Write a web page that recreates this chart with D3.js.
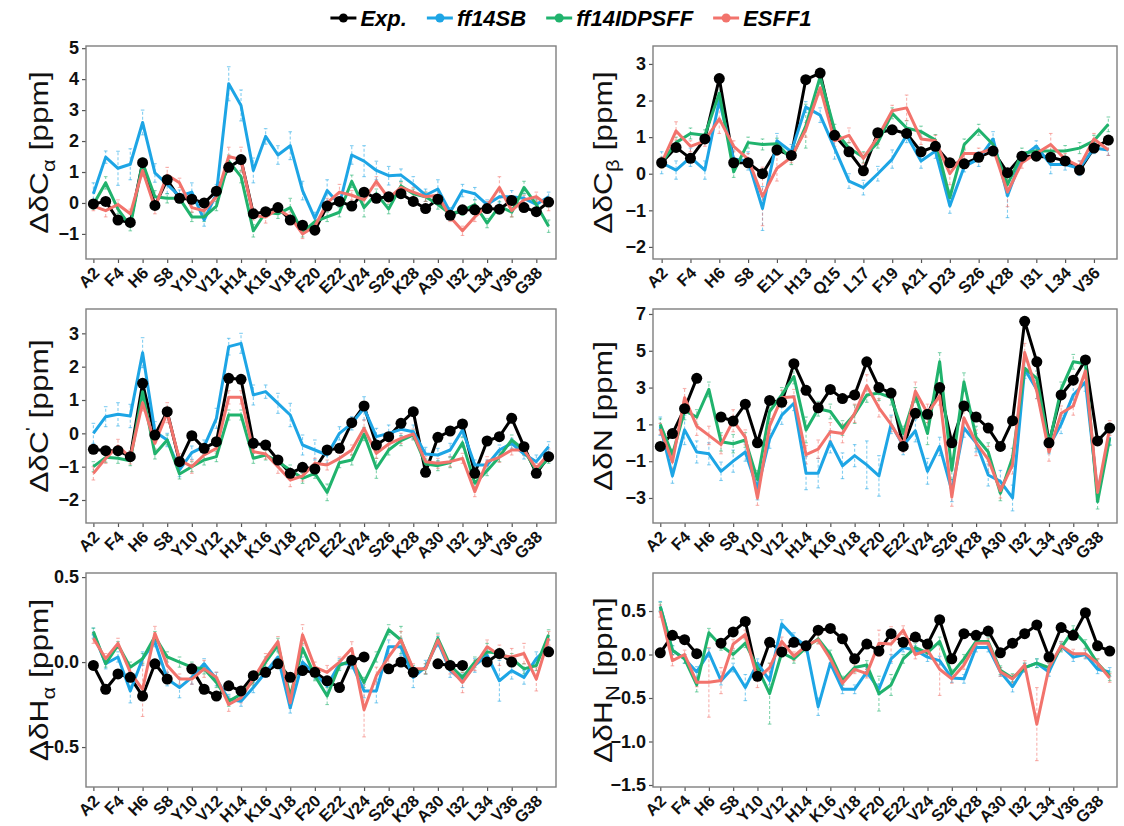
<!DOCTYPE html>
<html>
<head>
<meta charset="utf-8">
<script src="https://cdn.jsdelivr.net/npm/d3@7"></script>
<style>
  body { margin: 0; background: #ffffff; }
  svg { display: block; font-family: "Liberation Sans", Arial, sans-serif; }
</style>
</head>
<body>
<svg id="chart" width="1124" height="826"></svg>
<script>
// Residue levels (glycines are absent from the C-beta panel)
const residues = ["A2","E3","F4","R5","H6","D7","S8","G9","Y10","E11","V12","H13","H14","Q15","K16","L17","V18","F19","F20","A21","E22","D23","V24","G25","S26","N27","K28","G29","A30","I31","I32","G33","L34","M35","V36","G37","G38","V39"];
const residuesCb = ["A2","E3","F4","R5","H6","D7","S8","Y10","E11","V12","H13","H14","Q15","K16","L17","V18","F19","F20","A21","E22","D23","V24","S26","N27","K28","A30","I31","I32","L34","M35","V36","V39"];
const tickResidues = ["A2","F4","H6","S8","Y10","V12","H14","K16","V18","F20","E22","V24","S26","K28","A30","I32","L34","V36","G38"];
const tickResiduesCb = ["A2","F4","H6","S8","E11","H13","Q15","L17","F19","A21","D23","S26","K28","I31","L34","V36"];

const seriesNames = ["Exp.", "ff14SB", "ff14IDPSFF", "ESFF1"];

// C-alpha secondary shifts
const caExp  = [-0.03,0.05,-0.55,-0.63,1.3,-0.08,0.75,0.15,0.12,0.0,0.38,1.15,1.4,-0.35,-0.28,-0.15,-0.55,-0.72,-0.88,-0.1,0.05,-0.1,0.35,0.15,0.2,0.3,0.05,-0.18,0.12,-0.4,-0.22,-0.22,-0.18,-0.2,0.08,-0.15,-0.28,0.03];
const caSB   = [0.3,1.48,1.12,1.25,2.6,0.97,0.6,0.22,0.35,-0.55,0.3,3.85,3.15,1.05,2.15,1.55,1.85,0.4,-0.5,0.4,-0.05,1.55,1.35,1.05,0.88,0.9,0.6,0.25,0.45,-0.3,0.4,0.3,-0.05,0.2,0.2,0.15,-0.05,0.2];
const caIDP  = [-0.05,0.65,-0.2,-0.75,1.3,0.2,0.15,0.15,-0.45,-0.45,-0.1,1.35,0.85,-0.9,-0.3,-0.35,-0.15,-0.95,-0.6,-0.45,-0.3,0.7,-0.15,0.3,-0.2,0.55,0.3,0.2,-0.05,-0.35,-0.25,-0.05,-0.65,-0.1,-0.3,0.5,-0.05,-0.75];
const caESFF = [-0.1,-0.25,-0.05,-0.35,1.05,-0.15,0.9,0.65,-0.15,-0.25,0.2,1.5,1.4,-0.4,-0.45,-0.2,-0.45,-1.0,-0.75,0.0,0.35,0.25,0.1,0.7,0.15,0.5,0.35,0.2,0.25,-0.45,-0.9,-0.45,-0.1,0.5,-0.25,0.1,0.2,-0.1];
const caSBErr   = [0.35,0.2,0.55,0.5,0.4,0.3,0.3,0.2,0.3,0.2,0.3,0.55,0.5,0.4,0.25,0.3,0.45,0.3,0.2,0.35,0.25,0.3,0.5,0.3,0.3,0.2,0.25,0.2,0.3,0.15,0.2,0.2,0.15,0.2,0.2,0.15,0.2,0.15];
const caIDPErr  = [0.15,0.2,0.15,0.15,0.15,0.2,0.15,0.15,0.15,0.15,0.15,0.2,0.2,0.2,0.15,0.15,0.3,0.15,0.15,0.15,0.15,0.2,0.3,0.15,0.15,0.15,0.15,0.15,0.15,0.15,0.15,0.15,0.15,0.15,0.15,0.2,0.15,0.2];
const caESFFErr = [0.15,0.2,0.15,0.15,0.2,0.2,0.25,0.15,0.15,0.15,0.15,0.3,0.4,0.15,0.2,0.15,0.15,0.15,0.15,0.15,0.25,0.15,0.15,0.15,0.15,0.15,0.15,0.15,0.15,0.15,0.15,0.15,0.15,0.35,0.2,0.15,0.15,0.15];

// C-beta secondary shifts
const cbExp  = [0.3,0.72,0.42,0.95,2.6,0.3,0.3,0.0,0.65,0.5,2.57,2.75,1.05,0.6,0.08,1.12,1.2,1.1,0.6,0.75,0.3,0.27,0.45,0.62,0.03,0.48,0.48,0.45,0.35,0.1,0.7,0.92];
const cbSB   = [0.3,0.1,0.45,0.1,2.0,0.4,0.35,-0.95,0.9,0.6,1.82,1.6,0.7,-0.2,-0.38,0.0,0.4,1.05,0.35,0.62,-0.88,0.2,0.4,0.95,-0.6,0.45,0.75,0.25,0.25,0.15,0.7,0.65];
const cbIDP  = [0.3,0.85,1.1,1.05,2.2,0.05,0.85,0.8,0.82,0.4,1.3,2.65,1.2,0.7,0.45,0.85,1.65,1.25,1.15,0.92,-0.65,0.8,1.2,0.8,-0.3,0.55,0.62,0.62,0.62,0.7,0.9,1.35];
const cbESFF = [0.3,1.17,0.75,0.9,1.5,0.75,0.4,-0.62,0.15,0.45,1.2,2.35,0.9,1.05,0.42,1.0,1.72,1.8,0.95,0.9,0.0,0.55,0.55,0.7,-0.5,0.3,0.55,0.8,0.4,0.2,0.95,0.65];
const cbSBErr   = [0.3,0.25,0.25,0.25,0.2,0.25,0.25,0.6,0.2,0.2,0.15,0.2,0.3,0.2,0.2,0.2,0.25,0.2,0.2,0.2,0.2,0.15,0.2,0.2,0.6,0.15,0.15,0.25,0.15,0.2,0.15,0.15];
const cbIDPErr  = [0.15,0.15,0.15,0.15,0.25,0.15,0.15,0.15,0.15,0.15,0.6,0.2,0.15,0.15,0.15,0.15,0.15,0.2,0.15,0.15,0.2,0.15,0.15,0.15,0.3,0.15,0.15,0.15,0.15,0.15,0.15,0.2];
const cbESFFErr = [0.15,0.25,0.15,0.15,0.4,0.15,0.15,0.8,0.35,0.15,0.2,0.2,0.15,0.2,0.15,0.2,0.15,0.35,0.15,0.15,0.3,0.15,0.15,0.15,0.4,0.15,0.15,0.3,0.15,0.15,0.15,0.15];

// Carbonyl C' secondary shifts
const coExp  = [-0.48,-0.52,-0.52,-0.7,1.5,-0.05,0.65,-0.85,-0.07,-0.45,-0.25,1.65,1.62,-0.3,-0.35,-0.8,-1.2,-1.02,-1.07,-0.5,-0.45,0.32,0.82,-0.35,-0.1,0.3,0.65,-1.17,-0.12,0.07,0.28,-1.2,-0.23,-0.1,0.45,-0.4,-1.2,-0.7];
const coSB   = [0.0,0.5,0.57,0.52,2.42,0.05,-0.2,-1.1,-0.58,-0.4,0.45,2.6,2.7,1.15,1.25,0.9,0.55,-0.35,-0.5,-0.65,0.0,0.3,0.75,-0.1,0.0,0.12,0.05,-0.62,-0.65,-0.5,0.1,-0.95,-0.95,-0.5,-0.3,-0.62,-0.85,-0.4];
const coIDP  = [-1.0,-0.72,-0.75,-0.82,1.25,-0.62,-0.2,-1.22,-1.0,-0.8,-0.7,0.55,0.55,-0.75,-0.65,-0.85,-1.1,-1.35,-1.2,-1.77,-0.88,-0.8,-0.02,-1.05,-0.5,-0.22,-0.05,-0.92,-0.97,-0.88,-0.28,-1.5,-1.12,-0.7,-0.2,-0.5,-1.12,-0.75];
const coESFF = [-1.2,-0.75,-0.38,-0.72,0.92,-0.3,0.62,-0.8,-1.0,-0.65,-0.45,1.08,1.08,-0.55,-0.62,-1.0,-1.4,-1.28,-0.9,-0.95,-0.75,-0.5,0.15,-0.6,-0.32,-0.15,-0.02,-0.85,-0.9,-0.85,-0.75,-1.75,-0.85,-0.72,-0.5,-0.5,-1.05,-0.62];
const coSBErr   = [0.3,0.3,0.35,0.35,0.45,0.3,0.2,0.2,0.2,0.2,0.3,0.25,0.3,0.3,0.2,0.3,0.35,0.3,0.3,0.25,0.2,0.2,0.35,0.25,0.25,0.2,0.2,0.2,0.2,0.2,0.2,0.15,0.15,0.15,0.15,0.15,0.2,0.15];
const coIDPErr  = [0.15,0.15,0.15,0.15,0.2,0.15,0.15,0.15,0.15,0.15,0.15,0.15,0.15,0.15,0.15,0.15,0.15,0.15,0.15,0.25,0.15,0.15,0.2,0.3,0.15,0.15,0.15,0.15,0.15,0.15,0.15,0.15,0.15,0.15,0.15,0.15,0.15,0.15];
const coESFFErr = [0.2,0.15,0.2,0.2,0.25,0.2,0.3,0.2,0.2,0.15,0.15,0.2,0.2,0.15,0.15,0.2,0.2,0.15,0.15,0.15,0.15,0.15,0.25,0.15,0.15,0.15,0.15,0.15,0.15,0.15,0.15,0.15,0.15,0.15,0.15,0.15,0.15,0.15];

// Backbone N secondary shifts (H6 not observed experimentally)
const nExp  = [-0.2,0.5,1.85,3.5,null,1.4,1.18,2.1,0.0,2.3,2.2,4.3,2.85,1.9,2.9,2.4,2.6,4.4,3.0,2.7,-0.2,1.6,1.55,3.0,0.0,2.0,1.4,0.8,-0.2,1.2,6.6,4.4,0.0,2.6,3.4,4.5,0.1,0.8];
const nSB   = [0.9,-1.8,0.7,-0.5,-0.6,-1.55,-1.0,-0.5,-2.5,0.2,1.5,2.15,-1.65,-1.65,0.05,-1.25,-0.7,-1.2,-1.8,1.0,-0.15,0.65,-1.55,-0.2,-2.6,0.8,0.0,-1.75,-2.1,-3.0,4.0,2.9,-0.2,1.0,2.6,3.3,-2.7,0.3];
const nIDP  = [1.0,-0.65,1.75,1.4,2.9,0.05,-0.05,0.15,-2.0,1.7,2.6,3.6,0.7,1.85,1.7,0.8,1.55,2.6,2.7,2.45,0.5,2.6,0.5,4.4,-1.5,3.3,0.3,-0.5,-2.75,-0.8,4.05,3.5,-0.1,2.9,4.4,4.3,-3.2,0.25];
const nESFF = [0.75,-1.05,2.45,0.9,0.4,-0.1,1.2,0.3,-3.0,0.9,2.45,2.5,-0.65,-0.35,0.6,0.5,1.6,3.1,1.9,1.0,-0.1,2.8,1.6,2.55,-2.95,1.35,0.0,-0.9,-2.6,-1.2,4.9,2.8,-0.5,1.6,2.0,3.9,-2.7,0.8];
const nSBErr   = [0.5,0.4,0.8,0.6,0.6,0.5,0.6,0.5,0.6,0.5,0.5,0.4,0.9,0.8,0.6,0.7,0.6,1.3,1.1,0.5,0.5,0.6,0.7,0.5,0.6,0.5,0.5,0.6,0.6,0.7,0.5,0.5,0.4,0.5,0.6,0.5,0.5,0.4];
const nIDPErr  = [0.3,0.3,0.5,0.4,0.4,0.5,0.5,0.4,0.5,0.4,0.4,0.4,0.7,0.4,0.4,0.4,0.5,0.4,0.4,0.4,0.4,0.4,0.6,0.5,0.5,0.5,0.6,0.5,0.4,0.5,0.4,0.4,0.4,0.4,0.4,0.4,0.4,0.4];
const nESFFErr = [0.3,0.4,0.5,0.5,0.5,0.5,0.6,0.4,0.4,0.4,0.4,0.4,0.5,0.5,0.5,0.5,0.5,0.6,0.5,0.4,0.4,0.5,0.5,0.5,0.5,0.6,0.7,0.7,0.4,0.5,0.5,0.4,0.5,0.4,0.5,0.4,0.4,0.4];

// H-alpha secondary shifts (glycine H-alpha not reported experimentally)
const haExp  = [-0.02,-0.16,-0.07,-0.09,-0.2,-0.01,-0.1,null,-0.04,-0.16,-0.2,-0.14,-0.17,-0.08,-0.06,-0.01,-0.09,-0.05,-0.06,-0.11,-0.15,0.01,0.03,null,-0.04,0.0,-0.06,null,-0.01,-0.02,-0.02,null,0.0,0.05,0.0,null,null,0.06];
const haSB   = [0.17,-0.01,0.03,-0.17,0.02,0.12,-0.1,-0.15,-0.09,-0.01,-0.1,-0.22,-0.23,-0.15,-0.06,0.03,-0.27,0.0,-0.07,-0.14,-0.01,-0.01,-0.17,-0.17,0.09,0.09,-0.09,-0.03,0.12,-0.05,-0.11,-0.02,0.04,-0.11,-0.05,-0.09,0.02,0.09];
const haIDP  = [0.18,-0.01,0.1,-0.03,0.02,0.15,0.03,0.0,-0.03,-0.04,-0.12,-0.23,-0.19,-0.11,0.0,0.1,-0.2,0.08,-0.08,-0.2,-0.02,0.01,-0.12,0.03,0.19,0.13,-0.05,-0.04,0.14,-0.02,-0.09,0.0,0.06,0.05,0.02,-0.04,-0.02,0.16];
const haESFF = [0.14,0.02,0.11,-0.06,-0.16,0.17,-0.02,-0.1,-0.1,-0.04,-0.09,-0.25,-0.21,-0.1,0.02,0.12,-0.24,0.16,-0.03,-0.06,0.0,0.08,-0.28,-0.08,0.03,0.13,-0.04,-0.04,0.13,-0.04,-0.12,-0.02,0.09,0.04,0.03,0.05,-0.1,0.14];
const haSBErr   = [0.03,0.03,0.03,0.07,0.04,0.03,0.04,0.06,0.04,0.03,0.04,0.03,0.03,0.03,0.03,0.04,0.03,0.03,0.03,0.04,0.03,0.03,0.04,0.07,0.04,0.05,0.06,0.04,0.03,0.04,0.04,0.04,0.04,0.12,0.05,0.04,0.04,0.04];
const haIDPErr  = [0.02,0.02,0.02,0.03,0.03,0.03,0.03,0.03,0.03,0.03,0.03,0.03,0.03,0.03,0.03,0.04,0.03,0.03,0.03,0.05,0.03,0.03,0.03,0.03,0.03,0.08,0.03,0.03,0.03,0.03,0.03,0.03,0.05,0.03,0.03,0.03,0.03,0.03];
const haESFFErr = [0.03,0.03,0.03,0.03,0.16,0.04,0.04,0.03,0.03,0.05,0.03,0.04,0.03,0.03,0.03,0.03,0.03,0.06,0.03,0.04,0.03,0.04,0.16,0.05,0.06,0.05,0.03,0.03,0.03,0.03,0.06,0.03,0.04,0.06,0.05,0.06,0.07,0.04];

// Amide H-N secondary shifts (H6 not observed experimentally)
const hnExp  = [0.02,0.22,0.17,0.01,null,0.13,0.26,0.38,-0.25,0.14,0.03,0.14,0.1,0.28,0.3,0.18,-0.05,0.12,0.04,0.24,0.14,0.2,0.12,0.4,-0.05,0.24,0.22,0.27,0.02,0.13,0.24,0.34,-0.03,0.31,0.22,0.48,0.1,0.04];
const hnSB   = [0.55,0.05,-0.05,-0.2,0.02,-0.3,-0.15,-0.38,-0.1,-0.3,0.35,0.2,0.1,-0.6,-0.1,-0.4,-0.4,-0.2,-0.4,-0.05,0.08,0.05,-0.03,-0.07,-0.27,-0.28,0.08,0.08,-0.2,-0.37,-0.15,-0.1,-0.2,0.1,-0.03,0.0,-0.17,-0.2];
const hnIDP  = [0.55,0.05,-0.05,-0.35,0.25,0.1,0.0,0.13,-0.15,-0.45,0.02,-0.05,0.08,0.18,0.0,-0.3,-0.15,-0.12,-0.45,-0.35,-0.05,0.08,0.02,0.15,-0.22,-0.05,0.15,0.15,-0.18,-0.27,-0.15,-0.1,-0.15,0.08,0.28,0.12,-0.1,-0.25];
const hnESFF = [0.5,-0.07,0.0,-0.32,-0.32,-0.3,0.12,0.23,-0.28,-0.15,0.15,-0.02,0.1,0.17,-0.05,-0.33,-0.17,-0.22,0.13,0.12,0.28,0.0,0.05,-0.17,-0.28,-0.12,0.13,0.13,-0.2,-0.28,-0.12,-0.8,-0.15,0.1,0.01,0.01,-0.1,-0.27];
const hnSBErr   = [0.06,0.05,0.05,0.06,0.05,0.05,0.05,0.15,0.05,0.05,0.05,0.05,0.05,0.1,0.05,0.05,0.05,0.05,0.06,0.05,0.05,0.05,0.05,0.05,0.05,0.05,0.05,0.05,0.05,0.06,0.05,0.05,0.05,0.05,0.05,0.05,0.05,0.05];
const hnIDPErr  = [0.05,0.05,0.05,0.08,0.05,0.05,0.05,0.05,0.05,0.35,0.05,0.05,0.05,0.05,0.05,0.05,0.05,0.05,0.2,0.12,0.05,0.05,0.05,0.05,0.05,0.05,0.05,0.05,0.05,0.05,0.05,0.05,0.05,0.05,0.05,0.05,0.05,0.05];
const hnESFFErr = [0.07,0.06,0.05,0.05,0.4,0.15,0.05,0.05,0.1,0.05,0.05,0.05,0.05,0.05,0.05,0.05,0.05,0.05,0.15,0.2,0.05,0.05,0.05,0.3,0.05,0.05,0.05,0.05,0.05,0.05,0.05,0.42,0.05,0.05,0.05,0.05,0.05,0.05];

// Y-axis ticks
const caTicks = [-1,0,1,2,3,4,5];
const cbTicks = [-2,-1,0,1,2,3];
const coTicks = [-2,-1,0,1,2,3];
const nTicks  = [-3,-1,1,3,5,7];
const haTicks = [-0.5,0.0,0.5];
const hnTicks = [-1.5,-1.0,-0.5,0.0,0.5];

// ---------------------------------------------------------------------------
const colors = ["#000000", "#1DA5E5", "#20B36D", "#F2736C"];
const colLeft = [86, 556], colRight = [653, 1117];
const rows = [[46, 259], [309, 523], [573, 787]];
const fmtInt = d3.format("d"), fmt1 = d3.format(".1f");
const FONT = "Liberation Sans, Arial, sans-serif";

const panels = [
  { levels: residues,   ticks: tickResidues,   col: colLeft,  row: rows[0], domain: [-1.81, 5.07], yTicks: caTicks, fmt: fmtInt,
    title: [["ΔδC", 0], ["α", 1], [" [ppm]", 0]], titleX: 48,
    exp: caExp, sims: [[caSB, caSBErr], [caIDP, caIDPErr], [caESFF, caESFFErr]] },
  { levels: residuesCb, ticks: tickResiduesCb, col: colRight, row: rows[0], domain: [-2.33, 3.49], yTicks: cbTicks, fmt: fmtInt,
    title: [["ΔδC", 0], ["β", 1], [" [ppm]", 0]], titleX: 612,
    exp: cbExp, sims: [[cbSB, cbSBErr], [cbIDP, cbIDPErr], [cbESFF, cbESFFErr]] },
  { levels: residues,   ticks: tickResidues,   col: colLeft,  row: rows[1], domain: [-2.69, 3.73], yTicks: coTicks, fmt: fmtInt,
    title: [["ΔδC", 0], ["'", 2], [" [ppm]", 0]], titleX: 48,
    exp: coExp, sims: [[coSB, coSBErr], [coIDP, coIDPErr], [coESFF, coESFFErr]] },
  { levels: residues,   ticks: tickResidues,   col: colRight, row: rows[1], domain: [-4.36, 7.27], yTicks: nTicks, fmt: fmtInt,
    title: [["ΔδN [ppm]", 0]], titleX: 612,
    exp: nExp, sims: [[nSB, nSBErr], [nIDP, nIDPErr], [nESFF, nESFFErr]] },
  { levels: residues,   ticks: tickResidues,   col: colLeft,  row: rows[2], domain: [-0.735, 0.524], yTicks: haTicks, fmt: fmt1,
    title: [["ΔδH", 0], ["α", 1], [" [ppm]", 0]], titleX: 48,
    exp: haExp, sims: [[haSB, haSBErr], [haIDP, haIDPErr], [haESFF, haESFFErr]] },
  { levels: residues,   ticks: tickResidues,   col: colRight, row: rows[2], domain: [-1.523, 0.937], yTicks: hnTicks, fmt: fmt1,
    title: [["ΔδH", 0], ["N", 1], [" [ppm]", 0]], titleX: 612,
    exp: hnExp, sims: [[hnSB, hnSBErr], [hnIDP, hnIDPErr], [hnESFF, hnESFFErr]] }
];

const svg = d3.select("#chart");
svg.append("rect").attr("width", 1124).attr("height", 826).attr("fill", "#fff");

panels.forEach(p => {
  const x = d3.scalePoint().domain(p.levels).range(p.col).padding(0.6);
  const y = d3.scaleLinear().domain(p.domain).range([p.row[1], p.row[0]]);
  const g = svg.append("g");

  // y axis
  const ya = g.append("g").attr("transform", `translate(${p.col[0]},0)`)
    .call(d3.axisLeft(y).tickValues(p.yTicks).tickSize(4).tickPadding(3).tickFormat(p.fmt));
  ya.select(".domain").remove();
  ya.selectAll(".tick line").attr("stroke", "#555").attr("stroke-width", 1.2);
  ya.selectAll(".tick text").attr("font-size", 18).attr("font-weight", "bold")
    .attr("fill", "#111").attr("font-family", FONT);

  // x axis tick marks
  const xa = g.append("g").attr("transform", `translate(0,${p.row[1]})`)
    .call(d3.axisBottom(x).tickValues(p.ticks).tickSize(4).tickFormat(""));
  xa.select(".domain").remove();
  xa.selectAll(".tick line").attr("stroke", "#555").attr("stroke-width", 1.2);
  xa.selectAll(".tick text").remove();

  // residue labels, set at 45 degrees below each tick
  g.append("g").selectAll("text")
    .data(p.ticks)
    .join("text")
    .attr("transform", d => `translate(${x(d) + 7},${p.row[1] + 15}) rotate(-45)`)
    .attr("text-anchor", "end")
    .attr("font-size", 16.5).attr("font-weight", "bold").attr("fill", "#111")
    .attr("font-family", FONT)
    .text(d => d);

  // axis title (slightly elongated along its length)
  const cy = (p.row[0] + p.row[1]) / 2;
  const t = g.append("text")
    .attr("transform", `translate(${p.titleX},${cy}) scale(1,1.22) rotate(-90)`)
    .attr("text-anchor", "middle")
    .attr("font-size", 26).attr("fill", "#111").attr("font-family", FONT);
  let shift = 0;
  p.title.forEach(([s, kind]) => {
    const ts = t.append("tspan").text(s);
    let target = 0;
    if (kind === 1) { ts.attr("font-size", 18); target = 7; }
    else if (kind === 2) { ts.attr("font-size", 16); target = -10; }
    if (target !== shift) { ts.attr("dy", target - shift); shift = target; }
  });

  const plot = g.append("g");

  // error bars for the three force fields
  p.sims.forEach(([vals, errs], si) => {
    const c = colors[si + 1];
    const eb = plot.append("g").attr("stroke", c).attr("stroke-opacity", 0.55).attr("stroke-width", 1.1);
    p.levels.forEach((lev, i) => {
      const v = vals[i], e = errs[i];
      if (v == null) return;
      const xx = x(lev);
      eb.append("line").attr("x1", xx).attr("x2", xx)
        .attr("y1", y(v - e)).attr("y2", y(v + e)).attr("stroke-dasharray", "3,2");
      [v - e, v + e].forEach(cv => {
        eb.append("line").attr("x1", xx - 1.8).attr("x2", xx + 1.8)
          .attr("y1", y(cv)).attr("y2", y(cv));
      });
    });
  });

  const line = d3.line()
    .defined(d => d.v != null)
    .x(d => x(d.lev)).y(d => y(d.v));

  const allSeries = [p.exp, ...p.sims.map(s => s[0])];
  allSeries.forEach((vals, si) => {
    const data = p.levels.map((lev, i) => ({ lev, v: vals[i] }));
    plot.append("path").datum(data)
      .attr("fill", "none").attr("stroke", colors[si])
      .attr("stroke-width", 3).attr("stroke-linejoin", "round")
      .attr("d", line);
  });

  // experimental points
  plot.selectAll("circle.exp")
    .data(p.levels.map((lev, i) => ({ lev, v: p.exp[i] })).filter(d => d.v != null))
    .join("circle").attr("class", "exp")
    .attr("cx", d => x(d.lev)).attr("cy", d => y(d.v)).attr("r", 5.5).attr("fill", "#000");

  // panel border
  g.append("rect")
    .attr("x", p.col[0]).attr("y", p.row[0])
    .attr("width", p.col[1] - p.col[0]).attr("height", p.row[1] - p.row[0])
    .attr("fill", "none").attr("stroke", "#7f7f7f").attr("stroke-width", 1.4);
});

// legend
const legend = svg.append("g");
let cursor = 0;
seriesNames.forEach((name, i) => {
  const it = legend.append("g");
  it.append("line").attr("x1", 0).attr("x2", 26).attr("y1", 0).attr("y2", 0)
    .attr("stroke", colors[i]).attr("stroke-width", 3);
  it.append("circle").attr("cx", 13).attr("cy", 0).attr("r", 4.5).attr("fill", colors[i]);
  const tx = it.append("text").attr("x", 30).attr("y", 8)
    .attr("font-size", 22).attr("font-weight", "bold").attr("font-style", "italic")
    .attr("font-family", FONT).attr("fill", "#000").text(name);
  const w = 30 + tx.node().getComputedTextLength();
  it.attr("transform", `translate(${cursor},0)`);
  cursor += w + 20;
});
const total = cursor - 20;
legend.attr("transform", `translate(${571 - total / 2},18)`);
</script>
</body>
</html>
